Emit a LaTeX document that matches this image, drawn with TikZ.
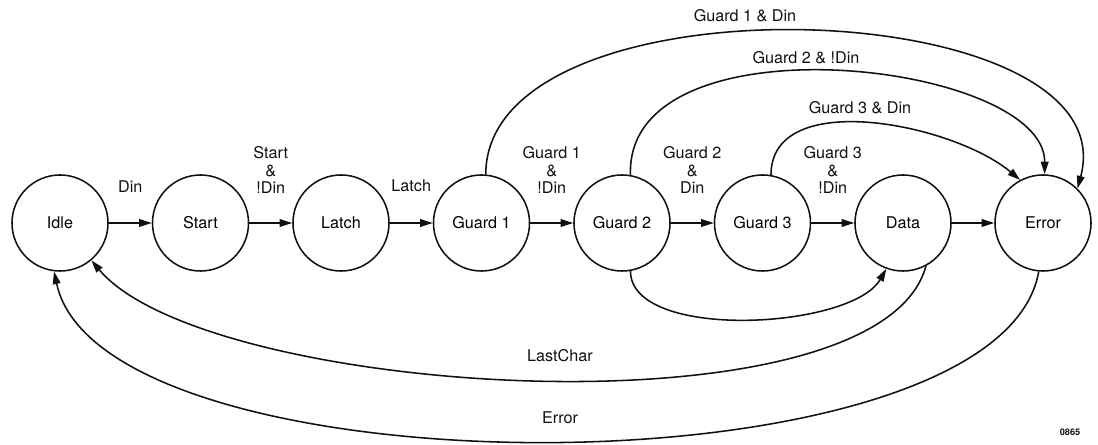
\documentclass[tikz,border=0pt]{standalone}
\usepackage{fontspec}
\setmainfont{TeX Gyre Heros}
\usetikzlibrary{arrows.meta,positioning}
\definecolor{fsInk}{HTML}{111111}
\tikzset{
  fsstate/.style={
    circle,
    draw=fsInk,
    line width=1.1pt,
    minimum size=2.4cm,
    inner sep=0pt,
    font=\fontsize{11.5}{13}\selectfont
  },
  fsarrow/.style={-{Triangle[length=9pt,width=5.5pt]}, line width=1.1pt, draw=fsInk},
  fslabel/.style={
    align=center,
    inner sep=1pt,
    text=fsInk,
    font=\fontsize{11.5}{12.5}\selectfont
  }
}

\begin{document}
\begin{tikzpicture}[x=0.025cm, y=-0.025cm]
  \useasboundingbox (0,0) rectangle (1098,445);

  \node[fsstate] (idle) at (60,223) {Idle};
  \node[fsstate] (start) at (200.5,223) {Start};
  \node[fsstate] (latch) at (341,223) {Latch};
  \node[fsstate] (guard1) at (481.5,223) {Guard 1};
  \node[fsstate] (guard2) at (622,223) {Guard 2};
  \node[fsstate] (guard3) at (762.5,223) {Guard 3};
  \node[fsstate] (data) at (903,223) {Data};
  \node[fsstate] (error) at (1043,223) {Error};

  \draw[fsarrow] (idle) -- node[fslabel, above=0.72cm] (ldin) {Din} (start);
  \draw[fsarrow] (start) -- node[fslabel, above=0.68cm] (lstart) {Start\\\&\\!Din} (latch);
  \draw[fsarrow] (latch) -- node[fslabel, above=0.72cm] (llatch) {Latch} (guard1);
  \draw[fsarrow] (guard1) -- node[fslabel, above=0.68cm] (lguard1) {Guard 1\\\&\\!Din} (guard2);
  \draw[fsarrow] (guard2) -- node[fslabel, above=0.68cm] (lguard2) {Guard 2\\\&\\Din} (guard3);
  \draw[fsarrow] (guard3) -- node[fslabel, above=0.68cm] (lguard3) {Guard 3\\\&\\!Din} (data);
  \draw[fsarrow] (data) -- (error);

  % jumps to the error state
  \draw[fsarrow] (guard1.85) to[out=90, in=75, looseness=0.88] (error.45);
  \draw[fsarrow] (guard2.80) to[out=92, in=90, out looseness=1.0, in looseness=0.7] (error.88);
  \draw[fsarrow] (guard3.80) to[out=90, in=140, looseness=0.9] (error.118);
  \node[fslabel] (lg1din) at (745,16) {Guard 1 \& Din};
  \node[fslabel] (lg2ndin) at (806,58) {Guard 2 \& !Din};
  \node[fslabel] (lg3din) at (860,108) {Guard 3 \& Din};

  % returns below the row
  \draw[fsarrow] (guard2.-80) to[out=-90, in=-120, looseness=0.7] (data.-110);
  \draw[fsarrow] (data.-62) to[out=-105, in=-50, looseness=0.55] (idle.-50);
  \draw[fsarrow] (error.-95) to[out=-100, in=-78, looseness=0.6] (idle.-97);
  \node[fslabel] (llast) at (560,356) {LastChar};
  \node[fslabel] (lerror) at (560,418) {Error};

  \node[font=\fontsize{6.5}{7}\selectfont\bfseries, text=fsInk] (fignum) at (1070,432) {0865};
\end{tikzpicture}
\end{document}
